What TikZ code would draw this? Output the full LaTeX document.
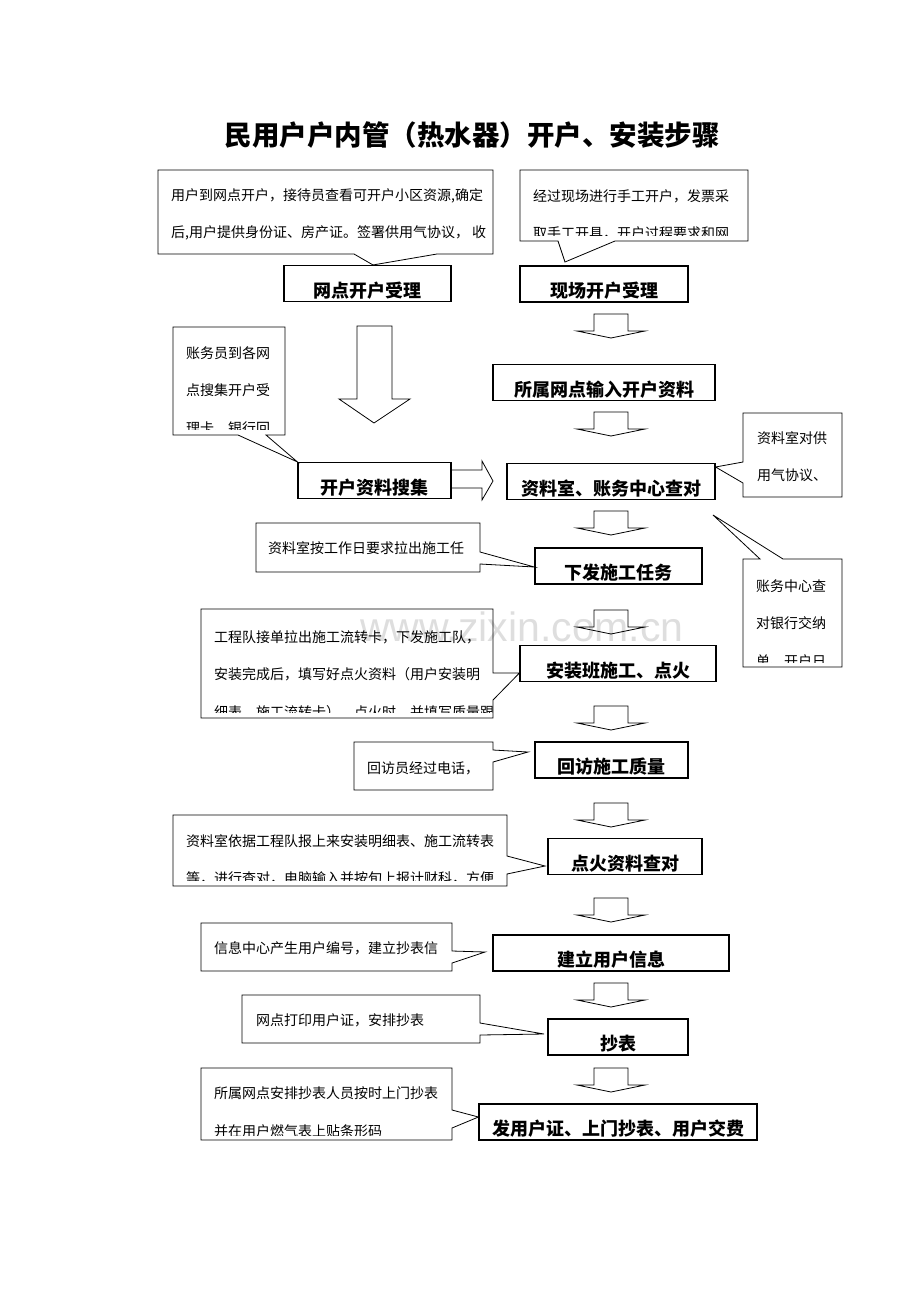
\documentclass[tikz,border=0pt]{standalone}
\usepackage{fontspec}
\setmainfont{Noto Sans CJK SC}
\newfontfamily\wmfont{Liberation Sans}
\usepackage{tikz}

\begin{document}
\begin{tikzpicture}[
		x = 1pt, y = -1pt,
		stepbox/.style = {draw, line width = 1.1pt, inner sep = 0pt,
			text height = 31.5pt, text depth = 4.5pt,
			font = \fontsize{18}{18}\selectfont\bfseries},
		callout/.style = {draw, line width = .8pt},
		note/.style = {anchor = base west, inner sep = 0pt, align = left,
			font = \fontsize{14}{37.5}\selectfont},
		hollow/.style = {draw, line width = .8pt}
		]
		\useasboundingbox (0,0) rectangle (920,1302);
		% watermark
		\node[anchor = base west, inner sep = 0pt, text = black!13,
			font = \wmfont\fontsize{41}{41}\selectfont] (wmark) at (360,641) {www.zixin.com.cn};
		
		\node[inner sep = 0pt, font = \fontsize{27.5}{27.5}\selectfont\bfseries] (title) at (472,135)
			{民用户户内管（热水器）开户、安装步骤};
		
		% Steps
		\node[stepbox, minimum width = 167pt] (wd) at (367.5,283.5) {网点开户受理};
		\node[stepbox, minimum width = 168pt] (xc) at (604,284) {现场开户受理};
		\node[stepbox, minimum width = 222pt] (sr) at (604,382.5) {所属网点输入开户资料};
		\node[stepbox, minimum width = 153pt] (sj) at (374.5,480.5) {开户资料搜集};
		\node[stepbox, minimum width = 208pt] (zl) at (611,481.5) {资料室、账务中心查对};
		\node[stepbox, minimum width = 167pt] (xf) at (618.5,566) {下发施工任务};
		\node[stepbox, minimum width = 196pt] (az) at (618,663.5) {安装班施工、点火};
		\node[stepbox, minimum width = 153pt] (hf) at (611.5,760) {回访施工质量};
		\node[stepbox, minimum width = 154pt] (dh) at (625,856.5) {点火资料查对};
		\node[stepbox, minimum width = 236pt] (jl) at (611,953) {建立用户信息};
		\node[stepbox, minimum width = 140pt] (cb) at (618,1037) {抄表};
		\node[stepbox, minimum width = 278pt] (fy) at (618,1122) {发用户证、上门抄表、用户交费};
		
		% Arrows
		\foreach \t in {314,412,511,610,706,803,898,983,1068}
			\draw[hollow] (594,\t) -- (628,\t) -- (628,\t+17) -- (645,\t+17)
				-- (611,\t+24) -- (577,\t+17) -- (594,\t+17) -- cycle;
		\draw[hollow] (357,326) -- (392,326) -- (392,399) -- (410,399) -- (374,423)
			-- (339,399) -- (357,399) -- cycle;
		\draw[hollow] (sj.east |- 0,470) -- (482,470) -- (482,461) -- (493,481)
			-- (482,500) -- (482,488) -- (sj.east |- 0,488);
		
		% Callouts (notes sit on the baseline of their last line)
		\draw[callout] (158,170) -- (493,170) -- (493,254) -- (437,254) -- (wd.north -| 373,0)
			-- (354,254) -- (158,254) -- cycle;
		\begin{scope}
			\clip (158,170) rectangle (493,249);
			\node[note] (noteA) at (171,237.5) {用户到网点开户，接待员查看可开户小区资源,确定\\后,用户提供身份证、房产证。签署供用气协议， 收};
		\end{scope}
		
		\draw[callout] (520,170) -- (748,170) -- (748,241) -- (615,241) -- (565,262)
			-- (558,241) -- (520,241) -- cycle;
		\begin{scope}
			\clip (520,170) rectangle (748,235);
			\node[note] (noteB) at (533,238.5) {经过现场进行手工开户，发票采\\取手工开具，开户过程要求和网};
		\end{scope}
		
		\draw[callout] (173,327) -- (285,327) -- (285,435) -- (266,435) -- (sj.north west)
			-- (238,435) -- (173,435) -- cycle;
		\begin{scope}
			\clip (173,327) rectangle (285,429);
			\node[note] (noteC) at (186,433) {账务员到各网\\点搜集开户受\\理卡、银行回};
		\end{scope}
		
		\draw[callout] (743,413) -- (842,413) -- (842,497) -- (743,497) -- (743,483)
			-- (zl.east |- 0,467) -- (743,462) -- cycle;
		\begin{scope}
			\clip (743,413) rectangle (842,497);
			\node[note] (noteD) at (757,480.5) {资料室对供\\用气协议、};
		\end{scope}
		
		\draw[callout] (256,523) -- (480,523) -- (480,552) -- (xf.west |- 0,567) -- (480,564)
			-- (480,572) -- (256,572) -- cycle;
		\node[note] (noteE) at (268,553) {资料室按工作日要求拉出施工任};
		
		\draw[callout] (743,559) -- (760,559) -- (713,515) -- (783,559) -- (842,559)
			-- (842,667) -- (743,667) -- cycle;
		\begin{scope}
			\clip (743,559) rectangle (842,662);
			\node[note] (noteF) at (756,666) {账务中心查\\对银行交纳\\单、开户日};
		\end{scope}
		
		\draw[callout] (201,609) -- (493,609) -- (493,673) -- (az.west |- 0,673) -- (493,700)
			-- (493,718) -- (201,718) -- cycle;
		\begin{scope}
			\clip (201,609) rectangle (493,712);
			\node[note] (noteG) at (214,717) {工程队接单拉出施工流转卡，下发施工队，\\安装完成后，填写好点火资料（用户安装明\\细表、施工流转卡），点火时，并填写质量跟};
		\end{scope}
		
		\draw[callout] (354,742) -- (493,742) -- (493,750) -- (528,752) -- (493,762)
			-- (493,790) -- (354,790) -- cycle;
		\node[note] (noteH) at (367,773) {回访员经过电话，};
		
		\draw[callout] (173,815) -- (507,815) -- (507,856) -- (545,866) -- (507,874)
			-- (507,886) -- (173,886) -- cycle;
		\begin{scope}
			\clip (173,815) rectangle (507,880);
			\node[note] (noteI) at (186,883.5) {资料室依据工程队报上来安装明细表、施工流转表\\等，进行查对，电脑输入并按旬上报计财科，方便};
		\end{scope}
		
		\draw[callout] (201,923) -- (452,923) -- (452,951) -- (485,952) -- (452,963)
			-- (452,971) -- (201,971) -- cycle;
		\node[note] (noteJ) at (214,953) {信息中心产生用户编号，建立抄表信};
		
		\draw[callout] (242,995) -- (480,995) -- (480,1023) -- (544,1034) -- (480,1035)
			-- (480,1043) -- (242,1043) -- cycle;
		\node[note] (noteK) at (256,1025) {网点打印用户证，安排抄表};
		
		\draw[callout] (201,1068) -- (452,1068) -- (452,1110) -- (fy.west |- 0,1117) -- (452,1128)
			-- (452,1140) -- (201,1140) -- cycle;
		\begin{scope}
			\clip (201,1068) rectangle (452,1135);
			\node[note] (noteL) at (214,1136) {所属网点安排抄表人员按时上门抄表\\并在用户燃气表上贴条形码};
		\end{scope}
	\end{tikzpicture}
\end{document}
